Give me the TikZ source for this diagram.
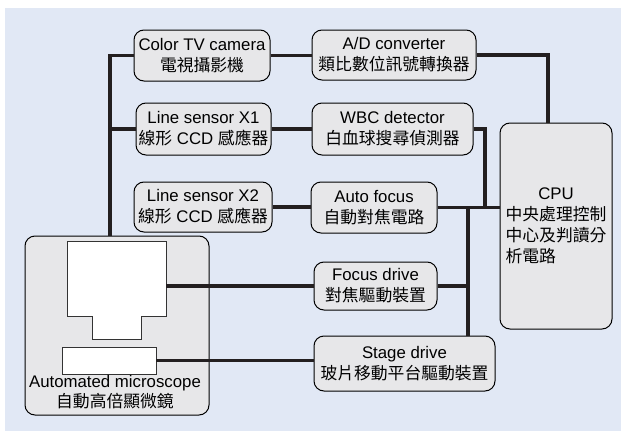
\documentclass[tikz,border=0pt]{standalone}
\usepackage{fontspec}
\setmainfont{Liberation Sans}
\newfontfamily\cjk{Noto Sans CJK TC}
\newcommand{\zh}[1]{{\cjk #1}}
\definecolor{bgBlue}{RGB}{225, 232, 245}
\definecolor{boxGray}{RGB}{231, 231, 233}
\definecolor{wireBlack}{RGB}{35, 31, 32}

\begin{document}
\begin{tikzpicture}[x=1pt, y=-1pt,
    unit/.style={draw=black, line width=1pt, fill=boxGray, rounded corners=10pt,
      align=center, inner sep=1pt, font=\fontsize{16.8}{21}\selectfont},
    part/.style={draw=black!80, line width=0.8pt, fill=white},
    wire/.style={wireBlack, line width=3.3pt}]
        % Background
        \useasboundingbox (0,0) rectangle (621,431);
        \fill[bgBlue] (5,8) rectangle (621,431);

        % Sensors (left column)
        \node[unit, minimum width=136pt, minimum height=51pt] (tv) at (202,55.5) {Color TV camera\\ \zh{電視攝影機}};
        \node[unit, minimum width=135pt, minimum height=52pt] (x1) at (203.5,129) {Line sensor X1\\ \zh{線形} CCD \zh{感應器}};
        \node[unit, minimum width=138pt, minimum height=50pt] (x2) at (203,207) {Line sensor X2\\ \zh{線形} CCD \zh{感應器}};

        % Circuits (middle column)
        \node[unit, minimum width=164pt, minimum height=50pt] (ad) at (394,55) {A/D converter\\ \zh{類比數位訊號轉換器}};
        \node[unit, minimum width=161pt, minimum height=52pt] (wbc) at (392.5,129) {WBC detector\\ \zh{白血球搜尋偵測器}};
        \node[unit, minimum width=126pt, minimum height=51pt] (af) at (374,207.5) {Auto focus\\ \zh{自動對焦電路}};
        \node[unit, minimum width=123pt, minimum height=48pt] (fd) at (375.5,286) {Focus drive\\ \zh{對焦驅動裝置}};
        \node[unit, minimum width=181pt, minimum height=55pt] (sd) at (404.5,363.5) {Stage drive\\ \zh{玻片移動平台驅動裝置}};

        % CPU
        \node[unit, align=left, minimum width=112pt, minimum height=206pt] (cpu) at (556,226)
          {\makebox[6em]{CPU}\\ \zh{中央處理控制}\\ \zh{中心及判讀分}\\ \zh{析電路}};

        % Microscope
        \node[unit, minimum width=184pt, minimum height=179pt] (micro) at (117,325.5) {};
        \draw[part] (67,241) -- (166,241) -- (166,316) -- (141,316) -- (141,339)
          -- (92,339) -- (92,316) -- (67,316) -- cycle;
        \coordinate (headR) at (166,286);
        \node[part, minimum width=94pt, minimum height=27pt, inner sep=0pt] (plate) at (109,360.5) {};
        \node[align=center, inner sep=0pt, font=\fontsize{16.8}{19.5}\selectfont] (microLbl) at (115,392)
          {Automated microscope\\ \zh{自動高倍顯微鏡}};

        % Wires
        \coordinate (busL) at (110,236);
        \draw[wire] (busL) |- (tv.west);
        \draw[wire] (busL |- x1.west) -- (x1.west);
        \draw[wire] (tv.east) -- (tv.east -| ad.west);
        \draw[wire] (x1.east) -- (x1.east -| wbc.west);
        \draw[wire] (x2.east) -- (x2.east -| af.west);
        \coordinate (cpuIn) at (548,123);
        \draw[wire] (ad.east) -| (cpuIn);
        \coordinate (wbcDown) at (485,207.5);
        \draw[wire] (wbc.east) -| (wbcDown);
        \draw[wire] (af.east) -- (af.east -| cpu.west);
        \coordinate (busR) at (468,207.5);
        \draw[wire] (busR) -- (busR |- sd.north);
        \draw[wire] (fd.east) -- (fd.east -| busR);
        \draw[wire] (headR) -- (headR -| fd.west);
        \draw[wire] (plate.east) -- (plate.east -| sd.west);
\end{tikzpicture}
\end{document}
